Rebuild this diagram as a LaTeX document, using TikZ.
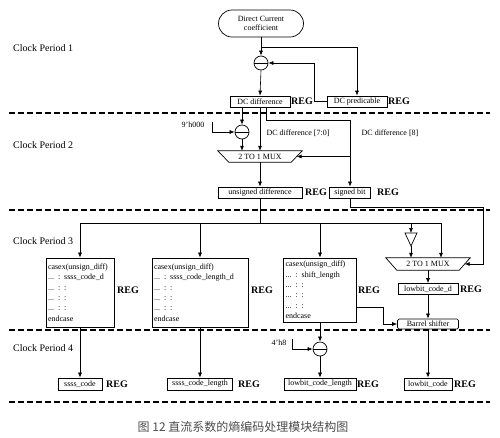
\documentclass[tikz,border=0pt]{standalone}
\usepackage{fontspec}
\setmainfont{Liberation Serif}
\newfontfamily\cjk{Noto Sans CJK SC}
\usetikzlibrary{arrows.meta,shapes.misc,calc}
\begin{document}
\begin{tikzpicture}[x=1pt,y=-1pt,
  box/.style={draw, line width=0.7pt, inner sep=0pt, font=\fontsize{8}{9}\selectfont, minimum height=11pt},
  reg/.style={font=\fontsize{10}{11}\selectfont\bfseries, inner sep=0pt},
  lbl/.style={font=\fontsize{10}{11}\selectfont, inner sep=0pt, anchor=west},
  small/.style={font=\fontsize{8}{9}\selectfont, inner sep=0pt},
  arr/.style={-{Latex[length=5pt,width=4pt]}, line width=0.6pt},
  wire/.style={line width=0.6pt},
  subtr/.style={draw, circle, minimum size=14pt, inner sep=0pt, line width=0.7pt,
    path picture={\draw[line width=0.7pt] (path picture bounding box.west) -- (path picture bounding box.east);}},
  sep/.style={line width=1.4pt, dash pattern=on 6pt off 3pt},
  casebox/.style={draw, line width=0.7pt, inner xsep=1.5pt, inner ysep=0pt, align=left,
    font=\fontsize{8}{10.4}\selectfont},
  muxbox/.style={inner sep=0pt, minimum width=84pt, minimum height=11pt, font=\fontsize{8}{9}\selectfont}
]
\useasboundingbox (0,0) rectangle (500,437);

% separators
\foreach \yy in {113,210,330,402} \draw[sep] (9,\yy) -- (490,\yy);

% period labels
\node[lbl] (p1) at (13,48) {Clock Period 1};
\node[lbl] (p2) at (13,145) {Clock Period 2};
\node[lbl] (p3) at (13,241) {Clock Period 3};
\node[lbl] (p4) at (13,348) {Clock Period 4};

% ---------- period 1
\node[draw, rounded rectangle, line width=0.7pt, minimum width=85pt, minimum height=27pt, inner sep=0pt,
  align=center, font=\fontsize{8}{9.5}\selectfont] (coef) at (261,23.5) {Direct Current\\coefficient};
\node[subtr] (sub1) at (261,63) {};
\node[box, minimum width=60pt] (dcdiff) at (260,101.5) {DC difference};
\node[reg] (r1) at (302,101.5) {REG};
\node[box, minimum width=60pt] (dcpred) at (357,101.5) {DC predicable};
\node[reg] (r2) at (399,101.5) {REG};
\coordinate (br1) at (261,47);

\draw[arr] (coef.south) -- (sub1.north);
\draw[arr] (br1) -| (dcpred.north);
\draw[arr] (dcpred.west) -- ++(-12,0) |- (sub1.east);
\draw[arr] (sub1.south) -- (dcdiff.north);

% ---------- period 2
\node[subtr] (sub2) at (242,132) {};
\node[small] (k9) at (193,125) {9'h000};
\coordinate (a9) at (212,122);
\node[muxbox] (mux1) at (260,156.5) {2 TO 1 MUX};
\draw[line width=0.7pt] (mux1.north west) -- (mux1.north east) -- ([xshift=-11pt]mux1.south east)
  -- ([xshift=11pt]mux1.south west) -- cycle;
\node[small] (l70) at (298,133) {DC difference [7:0]};
\node[small] (l8) at (390,133) {DC difference [8]};
\node[box, minimum width=84pt] (udiff) at (260,192.5) {unsigned difference};
\node[reg] (r3) at (316,192.5) {REG};
\node[box, minimum width=41pt] (sbit) at (350,192.5) {signed bit};
\node[reg] (r4) at (388,192.5) {REG};
\coordinate (c8) at (350,120);
\coordinate (c9) at (483,207);

\draw[arr] (dcdiff.south -| sub2.north) -- (sub2.north);
\draw[arr] (a9) |- (sub2.west);
\draw[arr] (sub2.south) -- (sub2.south |- mux1.north);
\draw[arr] (dcdiff.south) -- (mux1.north);
\draw[arr] ([xshift=6pt]dcdiff.south) |- (c8) -- (sbit.north);
\draw[arr] (c8 |- mux1.east) -- ([xshift=-5.5pt]mux1.east);
\draw[arr] (mux1.south) -- (udiff.north);

% ---------- period 3
\coordinate (h) at (260,223);
\coordinate (hl) at (80,223);
\coordinate (hr) at (441,223);
\node[casebox, minimum width=68pt, minimum height=69pt, text width=64pt] (col1) at (80,292.5)
  {casex(unsign\_diff)\\... : ssss\_code\_d\\... : :\\... : :\\... : :\\endcase};
\node[reg] (r5) at (128,290) {REG};
\node[casebox, minimum width=96pt, minimum height=69pt, text width=92pt] (col2) at (200,292.5)
  {casex(unsign\_diff)\\... : ssss\_code\_length\_d\\... : :\\... : :\\... : :\\endcase};
\node[reg] (r6) at (262,290) {REG};
\node[casebox, minimum width=73pt, minimum height=64pt, text width=69pt] (col3) at (320,290)
  {casex(unsign\_diff)\\... : shift\_length\\... : :\\... : :\\... : :\\endcase};
\node[reg] (r7) at (369,290) {REG};
\coordinate (tt) at (411,233);
\coordinate (tb) at (411,246);
\draw[line width=0.7pt] (405,233) -- (417,233) -- (tb) -- cycle;
\node[muxbox, minimum height=12pt] (mux2) at (428,264) {2 TO 1 MUX};
\draw[line width=0.7pt] (mux2.north west) -- (mux2.north east) -- ([xshift=-11pt]mux2.south east)
  -- ([xshift=11pt]mux2.south west) -- cycle;
\node[box, minimum width=60pt] (lbcd) at (428,289) {lowbit\_code\_d};
\node[reg] (r8) at (471,289) {REG};
\node[box, minimum width=61pt, minimum height=10pt, rounded corners=1.5pt] (barrel) at (428,324) {Barrel shifter};

\draw[arr] (sbit.south) |- (c9) |- ([xshift=-5.5pt]mux2.east);
\draw[wire] (udiff.south) -- (h);
\draw[wire] (hl) -- (hr);
\draw[arr] (hl) -- (col1.north);
\draw[arr] (col2.north |- h) -- (col2.north);
\draw[arr] (col3.north |- h) -- (col3.north);
\draw[arr] (tt |- h) -- (tt);
\draw[arr] (tb) -- (tb |- mux2.north);
\draw[arr] (hr) -- (hr |- mux2.north);
\draw[arr] (mux2.south) -- (lbcd.north);
\draw[arr] (lbcd.south) -- (barrel.north);
\draw[arr] ([yshift=-17pt]col3.east) -- ++(26,0) |- (barrel.west);

% ---------- period 4
\node[subtr] (sub3) at (320,349) {};
\node[small] (k4) at (279,343) {4'h8};
\coordinate (a4) at (292,339);
\node[box, minimum width=44pt, minimum height=12pt] (ssss) at (80,384) {ssss\_code};
\node[reg] (r9) at (117,384) {REG};
\node[box, minimum width=65pt, minimum height=12pt] (sssl) at (200,384) {ssss\_code\_length};
\node[reg] (r10) at (249,384) {REG};
\node[box, minimum width=72pt, minimum height=12pt] (lbcl) at (320,384) {lowbit\_code\_length};
\node[reg] (r11) at (368,384) {REG};
\node[box, minimum width=48pt, minimum height=12pt] (lbc) at (428,384) {lowbit\_code};
\node[reg] (r12) at (465,384) {REG};

\draw[arr] (col1.south) -- (ssss.north);
\draw[arr] (col2.south) -- (sssl.north);
\draw[arr] (col3.south) -- (sub3.north);
\draw[arr] (a4) |- (sub3.west);
\draw[arr] (sub3.south) -- (lbcl.north);
\draw[arr] (barrel.south) -- (lbc.north);

% caption
\node[font=\cjk\fontsize{12}{14}\selectfont, text=black!70, inner sep=0pt] (cap) at (243,427)
  {图 12 直流系数的熵编码处理模块结构图};
\end{tikzpicture}
\end{document}
